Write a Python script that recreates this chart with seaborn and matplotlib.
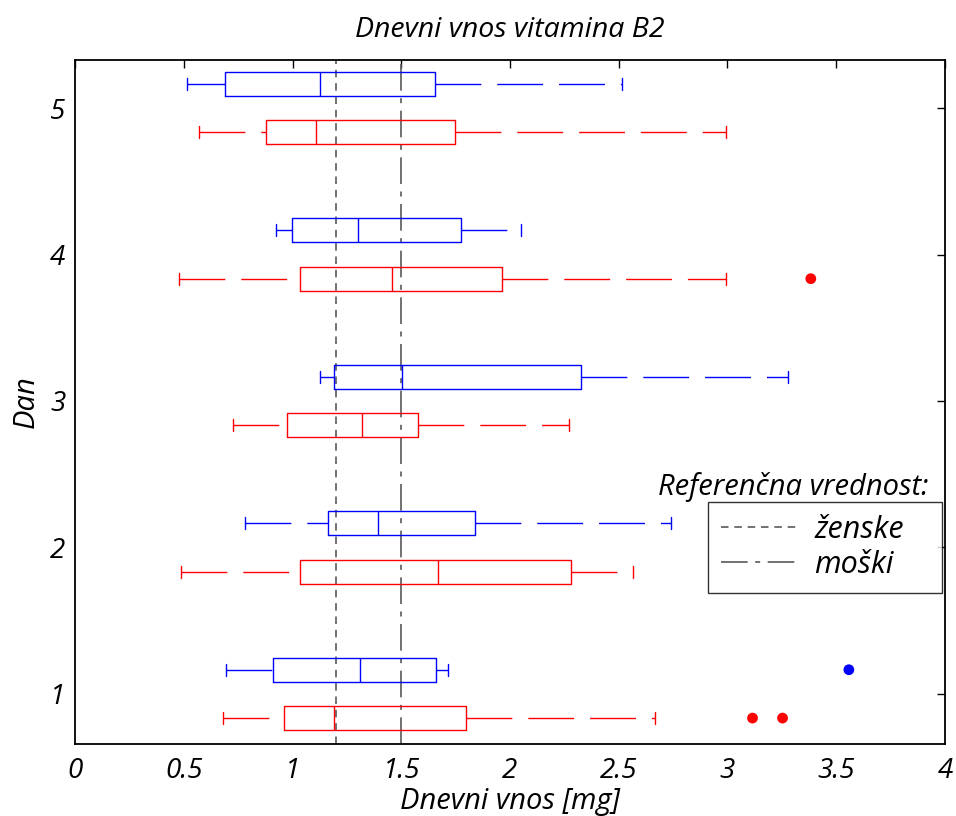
import numpy as np
import pandas as pd
import matplotlib
matplotlib.use("Agg")
import matplotlib.pyplot as plt
from matplotlib.lines import Line2D
import seaborn as sns

# ---- data (five-number summaries) ----
days = [1, 2, 3, 4, 5]
groups = ["rdeča", "modra"]          # red (lower box), blue (upper box)

red_min = [0.682, 0.488, 0.728, 0.479, 0.572]
red_q1 = [0.960, 1.034, 0.977, 1.034, 0.876]
red_med = [1.190, 1.670, 1.319, 1.459, 1.107]
red_q3 = [1.799, 2.279, 1.578, 1.964, 1.745]
red_max = [2.668, 2.565, 2.270, 2.992, 2.994]

blue_min = [0.693, 0.783, 1.125, 0.922, 0.516]
blue_q1 = [0.911, 1.163, 1.190, 0.996, 0.691]
blue_med = [1.310, 1.393, 1.504, 1.300, 1.125]
blue_q3 = [1.662, 1.838, 2.325, 1.773, 1.653]
blue_max = [1.717, 2.738, 3.278, 2.050, 2.516]

out_day = [1, 1, 4, 1]
out_group = ["rdeča", "rdeča", "rdeča", "modra"]
out_value = [3.115, 3.253, 3.383, 3.558]

ref_female = 1.2
ref_male = 1.5

xticks = [0, 0.5, 1, 1.5, 2, 2.5, 3, 3.5, 4]
xticklabels = ["0", "0.5", "1", "1.5", "2", "2.5", "3", "3.5", "4"]

# ---- build long table ----
rows = []
summ = {
    "rdeča": [red_min, red_q1, red_med, red_q3, red_max],
    "modra": [blue_min, blue_q1, blue_med, blue_q3, blue_max],
}
for g in groups:
    for i, d in enumerate(days):
        for arr in summ[g]:
            rows.append({"dan": d, "vnos": arr[i], "skupina": g})
df = pd.DataFrame(rows)

sns.set_style("white")
plt.rcParams["font.family"] = ["Open Sans", "DejaVu Sans"]
plt.rcParams["font.style"] = "italic"
plt.rcParams["text.color"] = "black"
plt.rcParams["axes.labelcolor"] = "black"
plt.rcParams["xtick.color"] = "black"
plt.rcParams["ytick.color"] = "black"

fig = plt.figure(figsize=(9.56, 8.16), dpi=100)
ax = fig.add_axes([75 / 956, 1 - 744 / 816, (945 - 75) / 956, (744 - 60) / 816])

palette = {"rdeča": "#ff0000", "modra": "#0000ff"}
sns.boxplot(
    data=df, x="vnos", y="dan", hue="skupina", hue_order=groups,
    orient="h", native_scale=True, fill=False, whis=(0, 100),
    palette=palette, width=0.66, gap=0.5, dodge=True, linewidth=1.0,
    whiskerprops={"linestyle": (0, (33, 11.5))},
    legend=False, ax=ax,
)
# draw whiskers left-to-right so the dash pattern starts at the low end
for ln in ax.lines:
    xd, yd = np.asarray(ln.get_xdata(), float), np.asarray(ln.get_ydata(), float)
    if len(xd) == 2 and yd[0] == yd[1] and xd[0] > xd[1]:
        ln.set_xdata(xd[::-1])

odf = pd.DataFrame({"dan": out_day, "skupina": out_group, "vnos": out_value})
offs = {"rdeča": -0.165, "modra": 0.165}
odf["poz"] = odf["dan"] + odf["skupina"].map(offs)
sns.scatterplot(data=odf, x="vnos", y="poz", hue="skupina", palette=palette,
                s=60, edgecolor="none", legend=False, ax=ax, zorder=5)

ls_f = (0, (4.5, 3.5))
ls_m = (0, (16, 4.5, 3, 4.5))
ax.axvline(ref_female, color="0.35", lw=1.2, ls=ls_f, zorder=1)
ax.axvline(ref_male, color="0.35", lw=1.2, ls=ls_m, zorder=1)

ax.set_xlim(0, 4)
ax.set_ylim(0.658, 5.328)
ax.set_xticks(xticks)
ax.set_xticklabels(xticklabels)
ax.set_yticks(days)
ax.set_yticklabels([str(d) for d in days])
ax.tick_params(direction="in", top=True, right=True, length=6, width=1,
               color="black", labelsize=20, pad=9)
ax.tick_params(axis="y", pad=7)
for s in ax.spines.values():
    s.set_visible(True)
    s.set_color("black")
    s.set_linewidth(1.3)

ax.set_xlabel("Dnevni vnos [mg]", fontsize=21, labelpad=2)
ax.set_ylabel("Dan", fontsize=21, labelpad=7)
ax.set_title("Dnevni vnos vitamina B2", fontsize=20.5, pad=16.5)

h1 = Line2D([], [], color="0.35", lw=1.2, ls=ls_f)
h2 = Line2D([], [], color="0.35", lw=1.2, ls=ls_m)
W, H = 870.0, 684.0
leg = ax.legend([h1, h2], ["ženske", "moški"], loc="upper left",
                bbox_to_anchor=((708 - 75) / W, (744 - 592) / H,
                                (942 - 708) / W, (592 - 502) / H),
                mode="expand",
                fontsize=22, frameon=True, fancybox=False, edgecolor="black",
                handlelength=2.45, handletextpad=0.6, borderpad=0.42,
                labelspacing=0.16, borderaxespad=0)
leg.get_frame().set_linewidth(1.0)
ax.text((928 - 75) / W, (744 - 487) / H, "Referenčna vrednost:",
        transform=ax.transAxes, ha="right", va="center", fontsize=21)

fig.savefig("out.png", dpi=100)
